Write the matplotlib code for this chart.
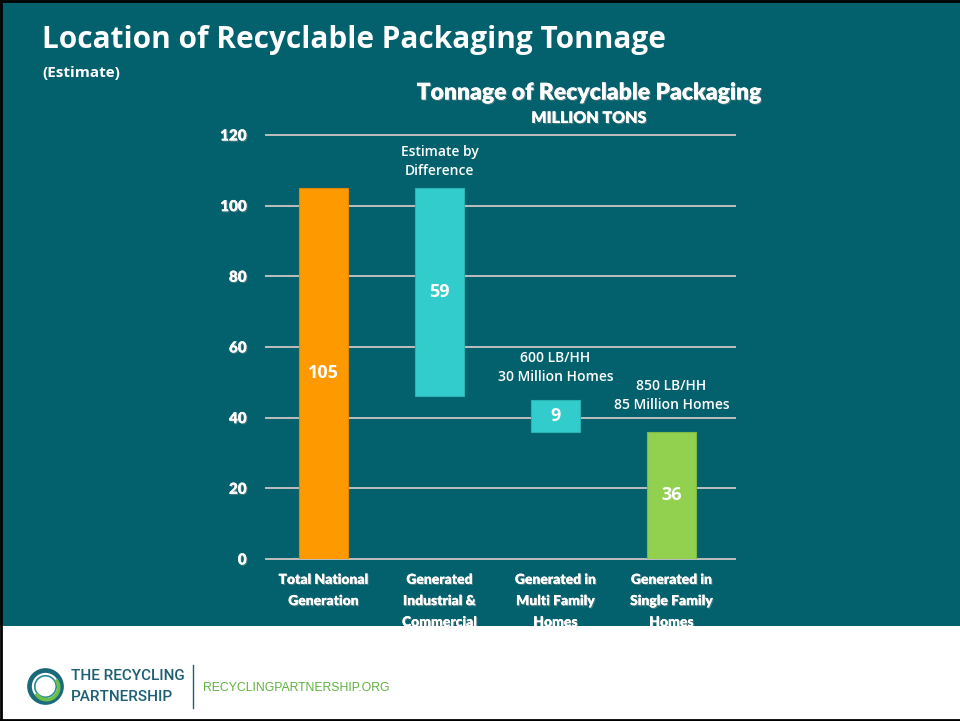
import matplotlib
matplotlib.use("Agg")
import matplotlib.pyplot as plt
import matplotlib.patheffects as pe
from matplotlib.patches import Rectangle, Circle, Arc
from matplotlib.lines import Line2D

categories = ["Total National\nGeneration", "Generated\nIndustrial &\nCommercial",
              "Generated in\nMulti Family\nHomes", "Generated in\nSingle Family\nHomes"]
values = [105, 59, 9, 36]
bases = [0, 46, 36, 0]
bar_colors = ["#FF9900", "#33CCCC", "#33CCCC", "#92D050"]
notes = ["", "Estimate by\nDifference", "600 LB/HH\n30 Million Homes", "850 LB/HH\n85 Million Homes"]
yticks = [0, 20, 40, 60, 80, 100, 120]

BG = "#03616D"
W, H = 960, 721
note_pad = [0, 2.8, 4.5, 5.7]
shadow = [pe.withSimplePatchShadow(offset=(0.8, -0.8), shadow_rgbFace="#7f8f90", alpha=0.6),
          pe.Normal()]

def fx(px):
    return px / W

def fy(py):
    return 1 - py / H

fig = plt.figure(figsize=(9.6, 7.21), dpi=100, facecolor=BG)

ax = fig.add_axes([fx(266), fy(559), fx(735) - fx(266), fy(135) - fy(559)])
ax.set_facecolor(BG)
ax.set_xlim(-0.496, 3.547)
ax.set_ylim(0, 120)
ax.set_yticks(yticks)
ax.set_yticklabels([str(v) for v in yticks], fontfamily="Lato", fontweight="heavy",
                   fontsize=11, color="white", path_effects=shadow)
ax.tick_params(axis="y", length=0, pad=14)
ax.tick_params(axis="x", length=0, pad=10)
for s in ax.spines.values():
    s.set_visible(False)
ax.yaxis.grid(True, color="#BFBFBF", linewidth=1.4)
for gl in ax.get_ygridlines():
    gl.set_clip_on(False)
ax.set_axisbelow(True)

x = list(range(len(values)))
ax.bar(x, values, bottom=bases, width=0.42, color=bar_colors,
       edgecolor=["#E08700", "#2AB3B3", "#2AB3B3", "#7FBA45"], linewidth=0.8, zorder=3)
ax.set_xticks(x)
ax.set_xticklabels(categories, fontfamily="Lato", fontweight="heavy", fontsize=10,
                   color="white", linespacing=1.75, path_effects=shadow)

for xi, v, b in zip(x, values, bases):
    ax.text(xi, b + v / 2, str(v), ha="center", va="center", color="white",
            fontfamily="Open Sans", fontweight="bold", fontsize=13, zorder=4)

for xi, v, b, n, p in zip(x, values, bases, notes, note_pad):
    if n:
        ax.text(xi, b + v + p, n, ha="center", va="bottom", color="white",
                fontfamily="Open Sans", fontweight="semibold", fontsize=10,
                linespacing=1.45, zorder=4)

fig.text(fx(42), fy(40), "Location of Recyclable Packaging Tonnage", color="white",
         fontfamily="Open Sans", fontweight="bold", fontsize=21.4, va="center", ha="left")
fig.text(fx(42), fy(73), "(Estimate)", color="white", fontfamily="Open Sans",
         fontweight="bold", fontsize=11, va="center", ha="left")
fig.text(fx(589), fy(93), "Tonnage of Recyclable Packaging", color="white",
         fontfamily="Lato", fontweight="heavy", fontsize=16.5, va="center", ha="center",
         path_effects=shadow)
fig.text(fx(589), fy(118), "MILLION TONS", color="white", fontfamily="Lato",
         fontweight="heavy", fontsize=11.5, va="center", ha="center", path_effects=shadow)

# white footer
fig.patches.append(Rectangle((0, 0), 1, fy(626), transform=fig.transFigure,
                             facecolor="white", edgecolor="none", zorder=10))
fig.lines.append(Line2D([fx(193), fx(193)], [fy(665), fy(708)], transform=fig.transFigure,
                        color="#1D5F73", linewidth=1.0, zorder=11))
fig.text(fx(71), fy(676), "THE RECYCLING", color="#1D5F73",
         fontfamily="Roboto", fontweight="medium", fontsize=11,
         va="center", ha="left", zorder=11)
fig.text(fx(71), fy(697), "PARTNERSHIP", color="#1D5F73",
         fontfamily="Roboto", fontweight="medium", fontsize=11,
         va="center", ha="left", zorder=11)
fig.text(fx(203), fy(688), "RECYCLINGPARTNERSHIP.ORG", color="#5DB33E",
         fontfamily="Liberation Sans", fontsize=8.8, va="center", ha="left", zorder=11)

# logo
lax = fig.add_axes([fx(26), fy(706), fx(39), fy(667) - fy(706)], zorder=12)
lax.set_xlim(-1, 1)
lax.set_ylim(-1, 1)
lax.set_aspect("equal")
lax.axis("off")
lax.add_patch(Circle((0, 0), 0.82, facecolor="none", edgecolor="#1B6A7B", linewidth=3.4))
lax.add_patch(Circle((0, 0), 0.55, facecolor="none", edgecolor="#2A8A9A", linewidth=1.2))
lax.add_patch(Arc((0.05, -0.05), 1.25, 1.25, theta1=-150, theta2=40,
                  edgecolor="#6CC04A", linewidth=2.6))

# border
for seg in [([0, 1], [fy(1), fy(1)]), ([0, 1], [fy(719.5), fy(719.5)]), ([fx(1), fx(1)], [0, 1])]:
    fig.lines.append(Line2D(seg[0], seg[1], transform=fig.transFigure, color="black",
                            linewidth=2, zorder=20))

fig.savefig("out.png", dpi=100, facecolor=BG)
